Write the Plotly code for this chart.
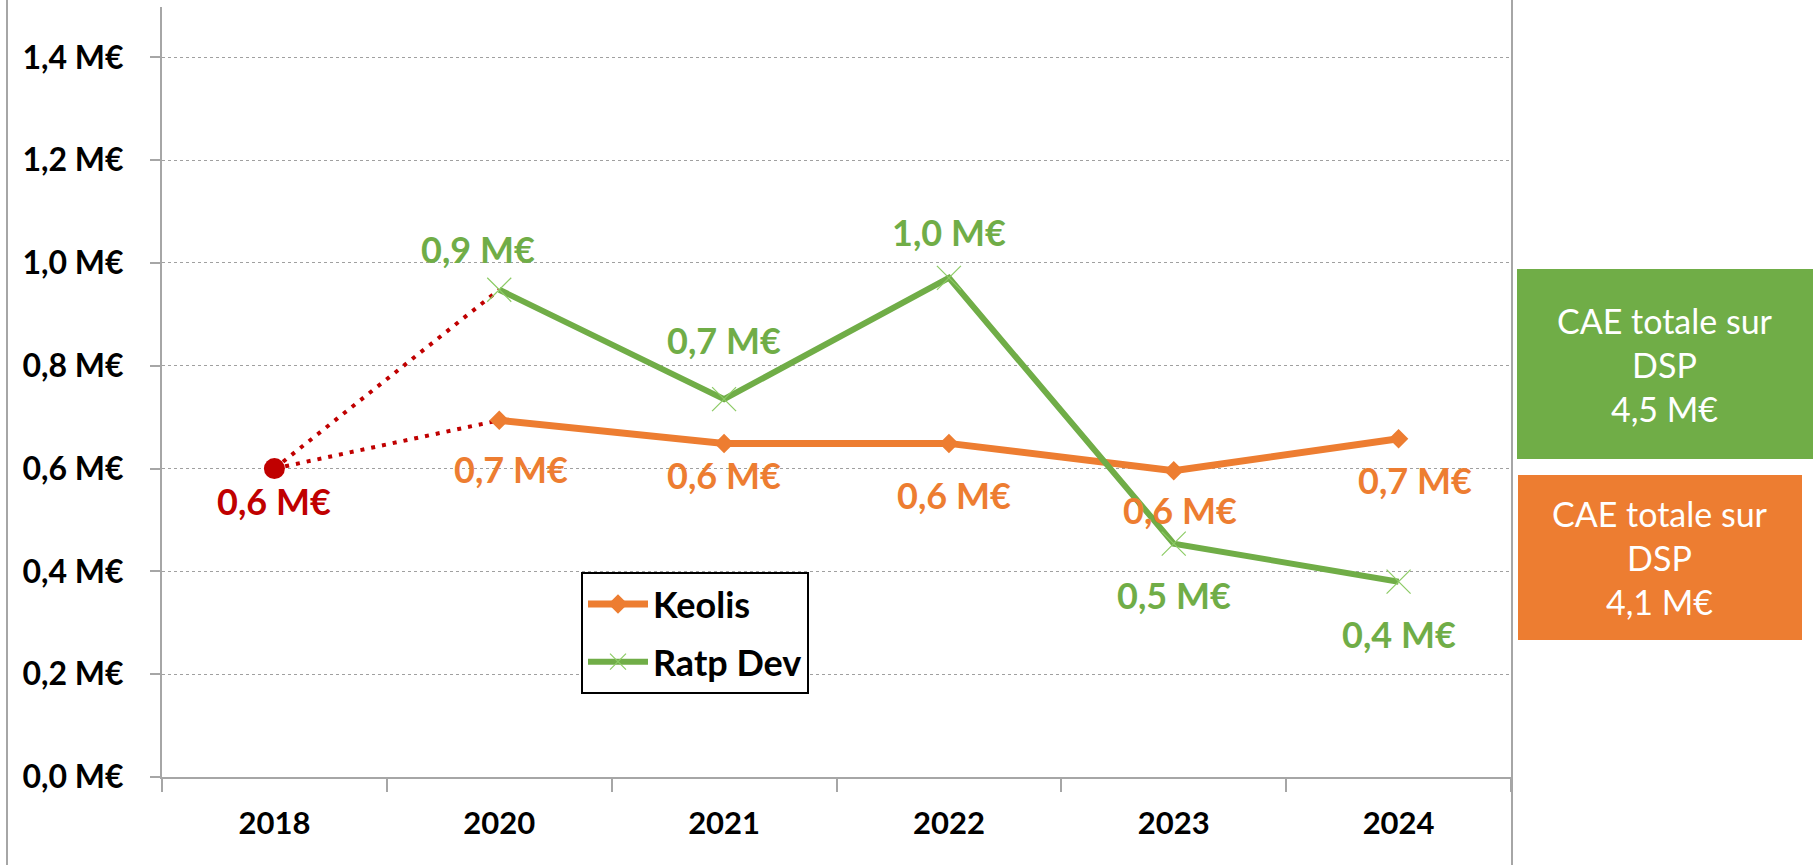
import plotly.graph_objects as go

# ---------------- data ----------------
years = ["2018", "2020", "2021", "2022", "2023", "2024"]
keolis_years = ["2020", "2021", "2022", "2023", "2024"]
keolis = [0.694, 0.649, 0.649, 0.596, 0.658]
ratp_years = ["2020", "2021", "2022", "2023", "2024"]
ratp = [0.948, 0.735, 0.971, 0.454, 0.380]
ref_year = "2018"
ref_value = 0.60
y_ticks = [0.0, 0.2, 0.4, 0.6, 0.8, 1.0, 1.2, 1.4]
totals_labels = ["Ratp Dev", "Keolis"]
totals_values = [4.5, 4.1]

# ---------------- style ----------------
ORANGE = "#ED7D31"
GREEN = "#70AD47"
RED = "#C00000"
FONT = "Lato"

W, H = 1816, 865
PL, PR, PT, PB = 162, 1511, 7, 777  # plot area in pixels

def fmt(v):
    return f"{v:.1f}".replace(".", ",") + " M€"

def px_x(x):
    return (x - PL) / (PR - PL)

def px_y(y):
    return (PB - y) / (PB - PT)

def cat(label):
    return years.index(label)

fig = go.Figure()

# dotted red connections 2018 -> 2020
fig.add_trace(go.Scatter(x=[ref_year, keolis_years[0]], y=[ref_value, keolis[0]],
                         mode="lines", line=dict(color=RED, width=4, dash="4px,7px"),
                         showlegend=False, hoverinfo="skip"))
fig.add_trace(go.Scatter(x=[ref_year, ratp_years[0]], y=[ref_value, ratp[0]],
                         mode="lines", line=dict(color=RED, width=4, dash="4px,7px"),
                         showlegend=False, hoverinfo="skip"))

fig.add_trace(go.Scatter(x=keolis_years, y=keolis, name="Keolis", mode="lines+markers",
                         legendgroup="k",
                         line=dict(color=ORANGE, width=7),
                         marker=dict(symbol="diamond", size=15, color=ORANGE)))
fig.add_trace(go.Scatter(x=ratp_years, y=ratp, name="Ratp Dev", mode="lines+markers",
                         legendgroup="r",
                         line=dict(color=GREEN, width=6),
                         marker=dict(symbol="x-thin", size=24,
                                     line=dict(color="#8CCB65", width=1.2), color=GREEN)))
fig.add_trace(go.Scatter(x=[ref_year], y=[ref_value], mode="markers",
                         marker=dict(symbol="circle", size=21, color=RED),
                         showlegend=False))

# data labels (pixel offsets: dx, dy downwards)
keolis_off = [(12, 49), (0, 32), (5, 52), (6, 39), (16, 41)]
ratp_off = [(-21, -41), (0, -59), (0, -46), (0, 51), (0, 52)]
lab_font = dict(family=FONT, size=36, weight="bold")
for xv, yv, (dx, dy) in zip(keolis_years, keolis, keolis_off):
    fig.add_annotation(x=cat(xv), y=yv, text=fmt(yv), showarrow=False,
                       xanchor="center", yanchor="middle", xshift=dx, yshift=-dy,
                       font=dict(lab_font, color=ORANGE))
for xv, yv, (dx, dy) in zip(ratp_years, ratp, ratp_off):
    fig.add_annotation(x=cat(xv), y=yv, text=fmt(yv), showarrow=False,
                       xanchor="center", yanchor="middle", xshift=dx, yshift=-dy,
                       font=dict(lab_font, color=GREEN))
fig.add_annotation(x=cat(ref_year), y=ref_value, text=fmt(ref_value), showarrow=False,
                   xanchor="center", yanchor="middle",
                   xshift=0, yshift=-32, font=dict(lab_font, color=RED))

# total boxes on the right
boxes = [((1517, 269, 1813, 459), GREEN), ((1518, 475, 1802, 640), ORANGE)]
for ((x0, y0, x1, y1), col), val in zip(boxes, totals_values):
    fig.add_shape(type="rect", xref="paper", yref="paper",
                  x0=px_x(x0), x1=px_x(x1), y0=px_y(y1), y1=px_y(y0),
                  fillcolor=col, line=dict(width=0), layer="below")
    fig.add_annotation(xref="paper", yref="paper", x=(px_x(x0) + px_x(x1)) / 2,
                       y=(px_y(y0) + px_y(y1)) / 2, showarrow=False,
                       xanchor="center", yanchor="middle",
                       text="CAE totale sur<br>DSP<br>" + fmt(val),
                       font=dict(family=FONT, size=34, color="white"), align="center")

# chart borders (left / right)
for xb in (7, 1512):
    fig.add_shape(type="line", xref="paper", yref="paper",
                  x0=px_x(xb), x1=px_x(xb), y0=-0.2, y1=1.1,
                  line=dict(color="#A6A6A6", width=2))

fig.update_layout(
    width=W, height=H,
    margin=dict(l=PL, r=W - PR, t=PT, b=H - PB),
    paper_bgcolor="white", plot_bgcolor="white",
    font=dict(family=FONT, color="black"),
    showlegend=True,
    legend=dict(x=px_x(581), y=px_y(572), xanchor="left", yanchor="top",
                bordercolor="black", borderwidth=2, bgcolor="white",
                font=dict(family=FONT, size=36, weight="bold", color="black"),
                itemwidth=60, tracegroupgap=8),
    xaxis=dict(type="category", categoryorder="array", categoryarray=years,
               range=[-0.5, len(years) - 0.5],
               showgrid=False, showline=True, linecolor="#A6A6A6", linewidth=2,
               ticks="outside", tickson="boundaries", ticklen=13, tickcolor="#A6A6A6",
               tickwidth=2, ticklabelstandoff=18,
               tickfont=dict(family=FONT, size=31, weight="bold", color="black")),
    yaxis=dict(range=[0, 1.498], tickvals=y_ticks, ticktext=[fmt(v) for v in y_ticks],
               showgrid=True, gridcolor="#A0A0A0", griddash="dot", gridwidth=1,
               zeroline=False, showline=True, linecolor="#A6A6A6", linewidth=2,
               ticks="outside", ticklen=10, tickcolor="#A6A6A6", tickwidth=2,
               ticklabelstandoff=20,
               tickfont=dict(family=FONT, size=32, weight="bold", color="black")),
)

fig.write_html("out.html", config={"displayModeBar": False},
               post_script="document.body.style.margin='0';")
